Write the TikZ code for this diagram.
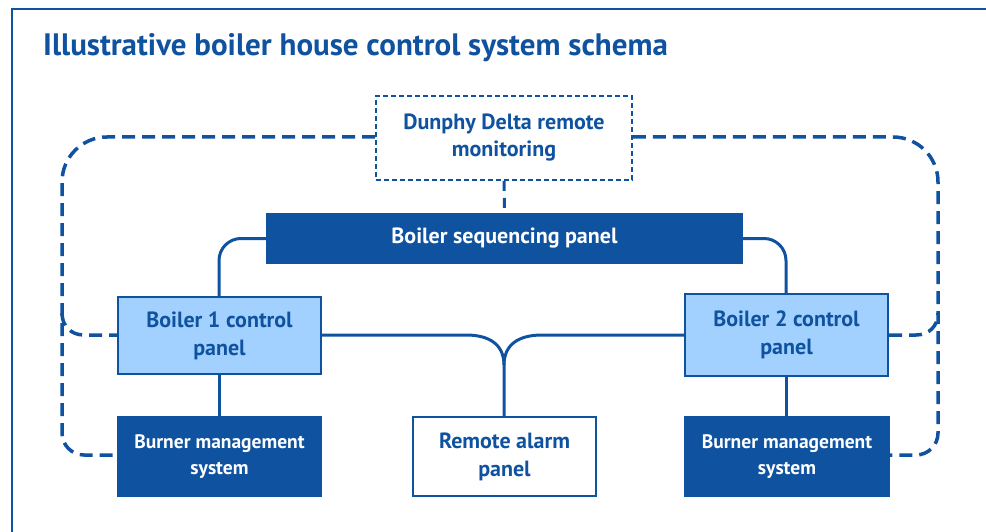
\documentclass[tikz,border=0pt]{standalone}
\usepackage{fontspec}
\setmainfont{PT Sans}
\definecolor{dblue}{HTML}{0F52A0}
\definecolor{lblue}{HTML}{A3D1FF}
\begin{document}
\begin{tikzpicture}[x=1pt,y=-1pt,
  boxtext/.style={align=center, inner sep=0pt, font=\bfseries\fontsize{22}{28}\selectfont},
  darkbox/.style={boxtext, fill=dblue, text=white},
  lightbox/.style={boxtext, draw=dblue, line width=2pt, fill=lblue, text=dblue},
  whitebox/.style={boxtext, draw=dblue, line width=2pt, fill=white, text=dblue},
  remotebox/.style={boxtext, draw=dblue, line width=1.8pt, dash pattern=on 5pt off 3pt, fill=white, text=dblue, font=\bfseries\fontsize{22}{27}\selectfont},
  burnerbox/.style={darkbox, font=\bfseries\fontsize{19.5}{26}\selectfont},
  link/.style={draw=dblue, line width=3pt},
  dlink/.style={draw=dblue, line width=3.5pt, dash pattern=on 13pt off 7pt},
  frameline/.style={draw=dblue, line width=2.5pt}
]
\useasboundingbox (0,0) rectangle (986,532);
\draw[frameline] (12,533) -- (12,9) -- (987,9);
\node[anchor=base west, text=dblue, font=\bfseries\fontsize{31}{34}\selectfont, inner sep=0pt] (title) at (43,56) {Illustrative boiler house control system schema};

\node[remotebox, minimum width=256pt, minimum height=84pt] (dd) at (504,138) {Dunphy Delta remote\\monitoring};
\node[darkbox, minimum width=477pt, minimum height=50pt] (seq) at (504.5,238.5) {Boiler sequencing panel};
\node[lightbox, minimum width=203pt, minimum height=77pt] (b1) at (219.5,335.5) {Boiler 1 control\\panel};
\node[lightbox, minimum width=203pt, minimum height=82pt] (b2) at (786.5,335) {Boiler 2 control\\panel};
\node[burnerbox, minimum width=205pt, minimum height=81pt] (bm1) at (219.5,456.5) {Burner management\\system};
\node[burnerbox, minimum width=206pt, minimum height=81pt] (bm2) at (787,456.5) {Burner management\\system};
\node[whitebox, minimum width=183pt, minimum height=79pt] (ra) at (504.5,456.5) {Remote alarm\\panel};

% solid links
\draw[link, rounded corners=22pt] (seq.west) -- (219,238.5) -- (b1.north -| 219,0);
\draw[link, rounded corners=22pt] (seq.east) -- (786,238.5) -- (b2.north -| 786,0);
\draw[link] (b1.south -| 219,0) -- (bm1.north -| 219,0);
\draw[link] (b2.south -| 786,0) -- (bm2.north -| 786,0);
\coordinate (j) at (504,365);
\draw[link] (b1.east |- 0,335) -- (466,335) .. controls (490,335) and (504,345) .. (j) -- (ra.north -| j);
\draw[link] (b2.west |- 0,335) -- (542,335) .. controls (518,335) and (504,345) .. (j);

% dashed links
\draw[draw=dblue, line width=3pt, dash pattern=on 10pt off 7pt] (dd.south) -- (seq.north);
\draw[dlink] (dd.west |- 0,137) [rounded corners=45pt] -- (62,137) [rounded corners=22pt] -- (62,455) -- (bm1.west |- 0,455);
\draw[dlink] (62,313) .. controls (62,326) and (71,335) .. (84,335) -- (b1.west |- 0,335);
\draw[dlink] (dd.east |- 0,137) [rounded corners=45pt] -- (938,137) [rounded corners=22pt] -- (938,455) -- (bm2.east |- 0,455);
\draw[dlink] (b2.east |- 0,335) -- (916,335) .. controls (929,335) and (938,326) .. (938,313);
\end{tikzpicture}
\end{document}
